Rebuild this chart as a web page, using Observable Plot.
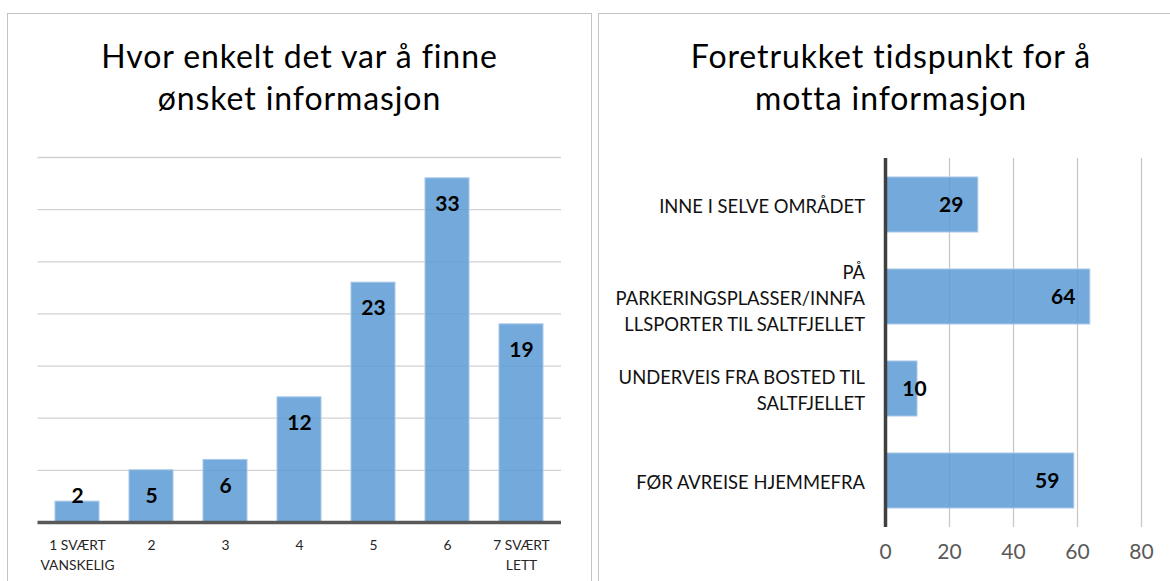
<!DOCTYPE html>
<html><head><meta charset="utf-8">
<script src="https://cdn.jsdelivr.net/npm/d3@7"></script>
<script src="https://cdn.jsdelivr.net/npm/@observablehq/plot@0.6"></script>
<style>
body{margin:0;background:#fff;font-family:Lato,sans-serif;}
#wrap{position:relative;width:1170px;height:581px;overflow:hidden;background:#fff;}
.panel{position:absolute;border:1.5px solid #c4c4c4;border-bottom:none;box-sizing:border-box;}
.title{position:absolute;text-align:center;font-size:32px;letter-spacing:0.9px;line-height:42px;color:#000;font-family:Lato,sans-serif;}
.chart{position:absolute;}
</style></head><body>
<div id="wrap">
 <div class="panel" style="left:7px;top:13px;width:585px;height:620px"></div>
 <div class="panel" style="left:598px;top:13px;width:620px;height:620px"></div>
 <div class="title" id="t1" style="left:8px;width:583px;top:35px"></div>
 <div class="title" id="t2" style="left:599px;width:584px;top:35px"></div>
 <div class="chart" id="c1" style="left:0;top:140px"></div>
 <div class="chart" id="c2" style="left:599px;top:140px"></div>
</div>
<script>
const leftTitle = ["Hvor enkelt det var å finne", "ønsket informasjon"];
const leftCategories = ["1 SVÆRT\nVANSKELIG", "2", "3", "4", "5", "6", "7 SVÆRT\nLETT"];
const leftValues = [2, 5, 6, 12, 23, 33, 19];
const leftTicks = [5, 10, 15, 20, 25, 30, 35];

const rightTitle = ["Foretrukket tidspunkt for å", "motta informasjon"];
const rightCategories = ["INNE I SELVE OMRÅDET", "PÅ\nPARKERINGSPLASSER/INNFA\nLLSPORTER TIL SALTFJELLET", "UNDERVEIS FRA BOSTED TIL\nSALTFJELLET", "FØR AVREISE HJEMMEFRA"];
const rightValues = [29, 64, 10, 59];
const rightTicks = [0, 20, 40, 60, 80];

document.getElementById("t1").innerHTML = leftTitle.join("<br>");
document.getElementById("t2").innerHTML = rightTitle.join("<br>");

const barFill = "#5b9bd5";
const leftData = leftCategories.map((c, i) => ({cat: c, value: leftValues[i]}));
const rightData = rightCategories.map((c, i) => ({cat: c, value: rightValues[i]}));

const p1 = Plot.plot({
  width: 590, height: 441,
  marginLeft: 37.5, marginRight: 29, marginTop: 17, marginBottom: 59,
  style: {fontFamily: "Lato, sans-serif", background: "transparent", overflow: "visible"},
  x: {domain: leftCategories, paddingInner: 0.41, paddingOuter: 0.2, axis: null},
  y: {domain: [0, 35], axis: null},
  marks: [
    Plot.ruleY(leftTicks, {stroke: "#d2d2d2", strokeWidth: 1.3}),
    Plot.barY(leftData, {x: "cat", y: "value", fill: barFill, fillOpacity: 0.85, stroke: "#a8c8e8", strokeWidth: 1}),
    Plot.ruleY([0], {stroke: "#595959", strokeWidth: 3.5}),
    Plot.text(leftData, {x: "cat", y: d => Math.max(d.value, 5), dy: 26, text: d => String(d.value), fontWeight: "bold", fontSize: 21, fill: "#000"}),
    Plot.text(leftCategories, {x: d => d, frameAnchor: "bottom", lineAnchor: "top", dy: 13, text: d => d, fontSize: 13.8, lineHeight: 1.45, fill: "#262626"})
  ]
});
document.getElementById("c1").appendChild(p1);

const p2 = Plot.plot({
  width: 571, height: 441,
  marginLeft: 286, marginRight: 29, marginTop: 18, marginBottom: 54,
  style: {fontFamily: "Lato, sans-serif", background: "transparent", overflow: "visible"},
  x: {domain: [0, 80], axis: null},
  y: {domain: rightCategories, paddingInner: 0.4, paddingOuter: 0.2, axis: null},
  marks: [
    Plot.ruleX(rightTicks.filter(t => t > 0), {stroke: "#c8c8c8", strokeWidth: 1.3}),
    Plot.barX(rightData, {y: "cat", x: "value", fill: barFill, fillOpacity: 0.85, stroke: "#a8c8e8", strokeWidth: 1}),
    Plot.ruleX([0], {stroke: "#404040", strokeWidth: 3.5}),
    Plot.text(rightData, {y: "cat", x: d => Math.max(d.value, 17.5), dx: -27, text: d => String(d.value), fontWeight: "bold", fontSize: 21, fill: "#000"}),
    Plot.text(rightCategories, {y: d => d, x: 0, dx: -20.5, textAnchor: "end", text: d => d, fontSize: 18.4, lineHeight: 1.42, fill: "#111"}),
    Plot.text(rightTicks, {x: d => d, frameAnchor: "bottom", dy: 31, text: d => String(d), fontSize: 21, fill: "#595959"})
  ]
});
document.getElementById("c2").appendChild(p2);
</script>
</body></html>
